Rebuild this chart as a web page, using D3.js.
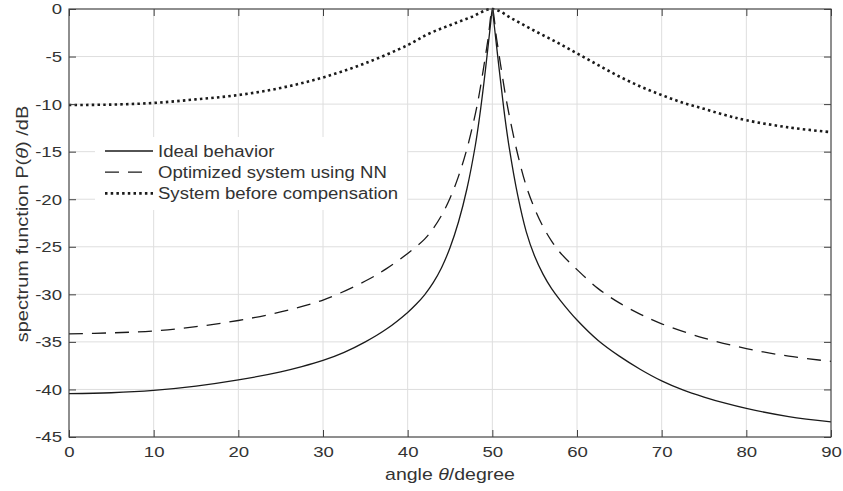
<!DOCTYPE html>
<html>
<head>
<meta charset="utf-8">
<script src="https://cdn.jsdelivr.net/npm/d3@7"></script>
<style>
  body { margin: 0; background: #fff; }
  text { font-family: "Liberation Sans", Arial, sans-serif; fill: #333; }
</style>
</head>
<body>
<svg id="chart" width="843" height="491"></svg>
<script>
// ticks
const xTicks = [0, 10, 20, 30, 40, 50, 60, 70, 80, 90]
const yTicks = [0, -5, -10, -15, -20, -25, -30, -35, -40, -45]

// Ideal behavior (solid)
const idealAngle = [0, 5, 10, 15, 20, 25, 27.5, 30, 32.5, 35, 37.5, 40, 41, 42, 43, 44, 45, 46, 47, 48, 48.5, 49, 49.5, 49.8, 50,
  50.2, 50.5, 51, 51.5, 52, 53, 54, 55, 56, 57, 58, 60, 62.5, 65, 67.5, 70, 72.5, 75, 77.5, 80, 85, 90]
const idealDb = [-40.45, -40.35, -40.1, -39.65, -39.0, -38.15, -37.6, -36.95, -36.1, -35.0, -33.65, -31.9, -31.05, -30.05, -28.8, -27.2, -25.1, -22.4, -18.9, -14.3, -11.3, -7.8, -3.9, -1.5, 0,
  -1.5, -3.9, -7.8, -11.5, -14.6, -19.6, -23.4, -26.0, -27.9, -29.4, -30.6, -32.7, -34.85, -36.5, -37.9, -39.1, -40.05, -40.8, -41.45, -42.0, -42.85, -43.4]

// Optimized system using NN (dashed)
const optAngle = [0, 5, 10, 15, 20, 25, 30, 35, 37.5, 40, 42, 43, 44, 45, 46, 47, 48, 48.5, 49, 49.5, 50,
  50.5, 51, 51.5, 52, 53, 54, 55, 56, 57, 58, 60, 62.5, 65, 67.5, 70, 75, 80, 85, 90]
const optDb = [-34.15, -34.05, -33.85, -33.4, -32.75, -31.85, -30.6, -28.6, -27.3, -25.7, -24.2, -23.1, -21.7, -19.9, -17.6, -14.7, -11.0, -8.7, -6.0, -3.1, 0,
  -3.1, -6.0, -8.8, -11.2, -15.3, -18.6, -21.0, -22.9, -24.4, -25.6, -27.4, -29.4, -30.9, -32.1, -33.1, -34.6, -35.7, -36.5, -37.05]

// System before compensation (dotted)
const beforeAngle = [0, 5, 10, 15, 20, 25, 30, 35, 40, 42.5, 45, 47.5, 50,
  52.5, 55, 57.5, 60, 62.5, 65, 67.5, 70, 72.5, 75, 77.5, 80, 85, 90]
const beforeDb = [-10.1, -10.05, -9.88, -9.5, -9.05, -8.3, -7.2, -5.7, -3.8, -2.6, -1.7, -0.85, 0,
  -1.1, -2.3, -3.45, -4.67, -5.9, -7.1, -8.15, -9.05, -9.85, -10.5, -11.15, -11.7, -12.45, -12.95]

const legendLabels = ["Ideal behavior", "Optimized system using NN", "System before compensation"]

const svg = d3.select('#chart')

const x = d3.scaleLinear().domain([0, 90]).range([69, 831])
const y = d3.scaleLinear().domain([-45, 0]).range([437, 9])

// grid
svg.append('g').selectAll('line')
  .data(xTicks)
  .join('line')
  .attr('x1', d => x(d)).attr('x2', d => x(d))
  .attr('y1', y(0)).attr('y2', y(-45))
  .attr('stroke', '#dedede').attr('stroke-width', 1)

svg.append('g').selectAll('line')
  .data(yTicks)
  .join('line')
  .attr('x1', x(0)).attr('x2', x(90))
  .attr('y1', d => y(d)).attr('y2', d => y(d))
  .attr('stroke', '#dedede').attr('stroke-width', 1)

// curves
const line = d3.line()
  .x(d => x(d[0]))
  .y(d => y(d[1]))
  .curve(d3.curveCatmullRom.alpha(0.5))

const series = [
  { ang: idealAngle, db: idealDb, dash: null, w: 1.3 },
  { ang: optAngle, db: optDb, dash: '14 9', w: 1.3 },
  { ang: beforeAngle, db: beforeDb, dash: '2.5 3.2', w: 2.6 }
]

svg.append('g').selectAll('path')
  .data(series)
  .join('path')
  .attr('d', s => line(s.ang.map((a, i) => [a, s.db[i]])))
  .attr('fill', 'none')
  .attr('stroke', '#1a1a1a')
  .attr('stroke-width', s => s.w)
  .attr('stroke-dasharray', s => s.dash)

// axes
const fmt = d => String(d)

const xAxis = svg.append('g')
  .attr('transform', `translate(0,${y(-45)})`)
  .call(d3.axisBottom(x).tickValues(xTicks).tickFormat(fmt).tickSize(-7).tickPadding(9))
xAxis.selectAll('text').attr('transform', 'scale(1.2,1)')

const yAxis = svg.append('g')
  .attr('transform', `translate(${x(0)},0)`)
  .call(d3.axisLeft(y).tickValues(yTicks).tickFormat(fmt).tickSize(-7).tickPadding(6))
yAxis.selectAll('text').attr('transform', 'scale(1.2,1)').attr('x', -7 / 1.2)

svg.append('g')
  .attr('transform', `translate(0,${y(0)})`)
  .call(d3.axisTop(x).tickValues(xTicks).tickFormat('').tickSize(-7))

svg.append('g')
  .attr('transform', `translate(${x(90)},0)`)
  .call(d3.axisRight(y).tickValues(yTicks).tickFormat('').tickSize(-7))

svg.selectAll('.domain').remove()
svg.selectAll('.tick line').attr('stroke', '#404040')
svg.selectAll('.tick text')
  .style('font-family', '"Liberation Sans", Arial, sans-serif')
  .style('font-size', '15.5px')
  .attr('fill', '#333')

svg.append('rect')
  .attr('x', x(0)).attr('y', y(0))
  .attr('width', x(90) - x(0)).attr('height', y(-45) - y(0))
  .attr('fill', 'none').attr('stroke', '#404040').attr('stroke-width', 1.1)

// legend
svg.append('rect')
  .attr('x', 95).attr('y', 137).attr('width', 312).attr('height', 73)
  .attr('fill', '#fff')

const legend = svg.append('g').selectAll('g')
  .data(legendLabels)
  .join('g')
  .attr('transform', (d, i) => `translate(0,${151 + i * 21.2})`)

legend.append('line')
  .attr('x1', 105).attr('x2', (d, i) => i == 1 ? 148 : 153)
  .attr('y1', 0).attr('y2', 0)
  .attr('stroke', '#1a1a1a')
  .attr('stroke-width', (d, i) => series[i].w)
  .attr('stroke-dasharray', (d, i) => series[i].dash)

legend.append('text')
  .attr('transform', 'translate(158,5.8) scale(1.16,1)')
  .style('font-size', '16px')
  .text(d => d)

// axis labels
const xl = svg.append('text')
  .attr('transform', 'translate(450,480) scale(1.22,1)')
  .attr('text-anchor', 'middle')
  .style('font-size', '16px')
xl.append('tspan').text('angle ')
xl.append('tspan').style('font-style', 'italic').text('θ')
xl.append('tspan').text('/degree')

const yl = svg.append('text')
  .attr('transform', 'translate(28,224) rotate(-90) scale(1.25,1)')
  .attr('text-anchor', 'middle')
  .style('font-size', '16px')
yl.append('tspan').text('spectrum function P(')
yl.append('tspan').style('font-style', 'italic').text('θ')
yl.append('tspan').text(') /dB')
</script>
</body>
</html>
